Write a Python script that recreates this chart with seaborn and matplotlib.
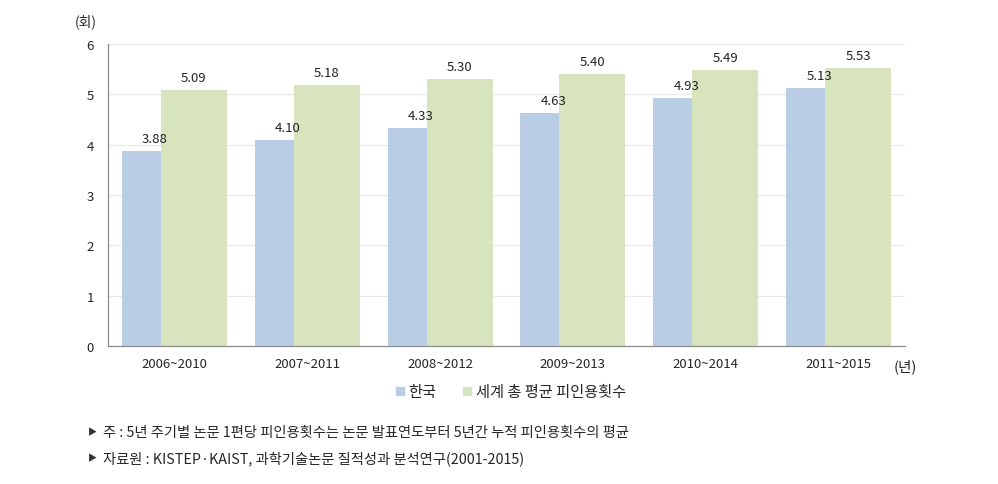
import matplotlib
matplotlib.use("Agg")
import matplotlib.pyplot as plt
from matplotlib.lines import Line2D
import numpy as np
import pandas as pd
import seaborn as sns

periods = ["2006~2010", "2007~2011", "2008~2012", "2009~2013", "2010~2014", "2011~2015"]
korea = [3.88, 4.10, 4.33, 4.63, 4.93, 5.13]
world = [5.09, 5.18, 5.30, 5.40, 5.49, 5.53]
series_names = ["한국", "세계 총 평균 피인용횟수"]
colors = ["#B9CDE5", "#D7E4BD"]
notes = ["주 : 5년 주기별 논문 1편당 피인용횟수는 논문 발표연도부터 5년간 누적 피인용횟수의 평균",
         "자료원 : KISTEP·KAIST, 과학기술논문 질적성과 분석연구(2001-2015)"]

df = pd.DataFrame({
    "period": periods * 2,
    "value": korea + world,
    "series": [series_names[0]] * len(periods) + [series_names[1]] * len(periods),
})

sns.set_style("white")
plt.rcParams["font.family"] = ["Noto Sans CJK KR", "DejaVu Sans"]

fig = plt.figure(figsize=(9.98, 4.85), dpi=100)
ax = fig.add_axes([0.1082, 0.2845, 0.7986, 0.6227])

sns.barplot(data=df, x="period", y="value", hue="series", palette=colors,
            dodge=True, width=0.587, saturation=1, legend=False, ax=ax)

# 엑셀처럼 막대가 겹치도록 폭을 넓힘 (녹색이 위에 그려짐)
bar_w = 0.496
for p in ax.patches:
    c = p.get_x() + p.get_width() / 2
    p.set_x(c - bar_w / 2)
    p.set_width(bar_w)
    p.set_linewidth(0)

# 값 라벨
n = len(periods)
values = korea + world
for p, val in zip(ax.patches[:2 * n], values):
    cx = p.get_x() + p.get_width() / 2
    ax.text(cx, val + 0.12, f"{val:.2f}", ha="center", va="bottom",
            fontsize=9.5, color="#222222")

ax.set_ylim(0, 6)
ax.set_xlim(-0.5, n - 0.5)
ax.set_yticks(range(0, 7))
ax.yaxis.grid(True, color="#E8E8E8", linewidth=0.8)
ax.set_axisbelow(True)
ax.set_xlabel("")
ax.set_ylabel("")

for s in ["top", "right"]:
    ax.spines[s].set_visible(False)
for s in ["left", "bottom"]:
    ax.spines[s].set_color("#8C8C8C")
    ax.spines[s].set_linewidth(0.9)

ax.tick_params(axis="y", length=4, color="#8C8C8C", labelsize=9.5, pad=6)
ax.tick_params(axis="x", length=0, labelsize=9.5, pad=8)
ax.set_xticks(np.arange(-0.5, n, 1.0), minor=True)
ax.tick_params(axis="x", which="minor", length=4, color="#8C8C8C", direction="out")

fig.text(0.075, 0.955, "(회)", fontsize=10, ha="left", va="center")
fig.text(0.895, 0.244, "(년)", fontsize=10.5, ha="left", va="center")

handles = [Line2D([0], [0], marker="s", linestyle="", markersize=6,
                  markerfacecolor=c, markeredgecolor=c) for c in colors]
fig.legend(handles, series_names, loc="center", bbox_to_anchor=(0.511, 0.19),
           ncol=2, frameon=False, fontsize=11, handletextpad=0.2,
           columnspacing=1.6, handlelength=0.8)

# 하단 주석
for y, note in zip([0.108, 0.055], notes):
    fig.text(0.088, y, "▶", fontsize=6.5, ha="left", va="center", color="#333333")
    fig.text(0.103, y, note, fontsize=10.3, ha="left", va="center")

fig.savefig("out.png", dpi=100)
